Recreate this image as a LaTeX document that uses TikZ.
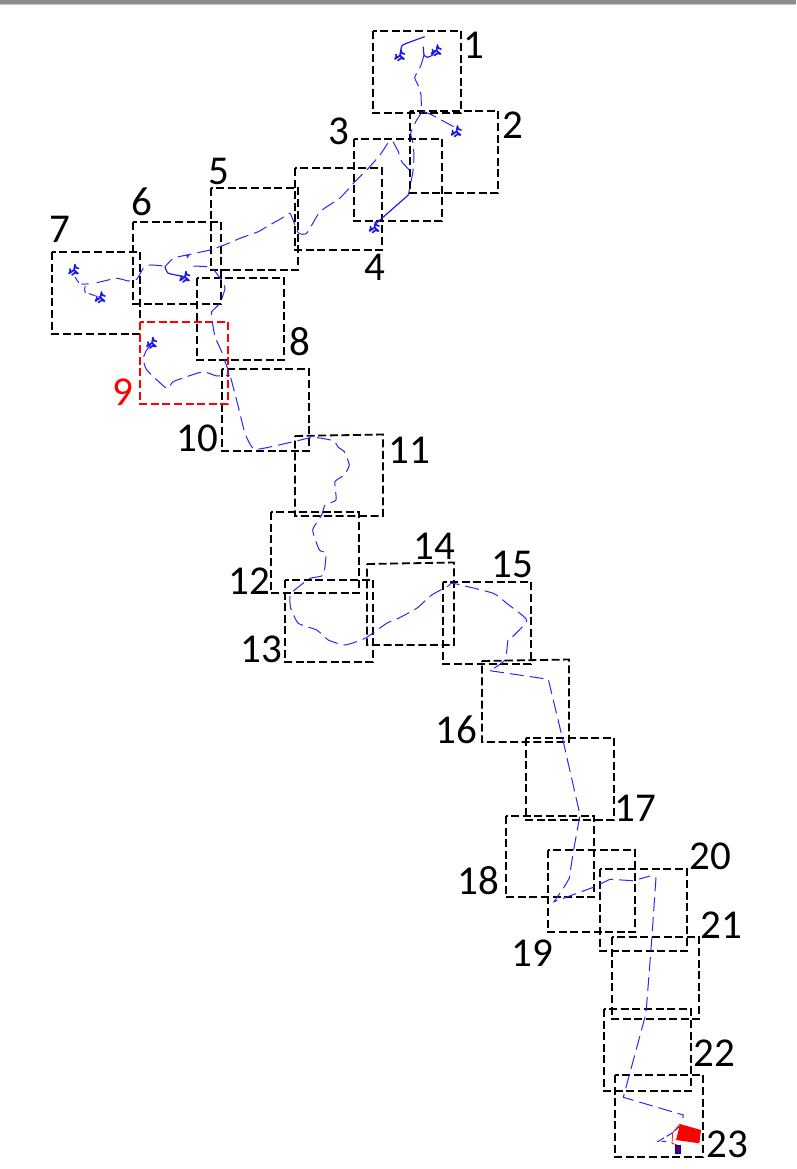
\documentclass[tikz,border=0pt]{standalone}
\usepackage{fontspec}
\setmainfont{Carlito}
\tikzset{
  x=1pt,y=-1pt,
  frame/.style={draw=black,line width=1.8pt,dash pattern=on 8pt off 3.6pt},
  redframe/.style={draw=red,line width=2.2pt,dash pattern=on 8pt off 3.6pt},
  lab/.style={font=\fontsize{41}{41}\selectfont,text=black,inner sep=0pt,anchor=center},
  track/.style={draw={rgb,255:red,40;green,40;blue,250},line width=1pt,dash pattern=on 14pt off 6pt,smooth,tension=0.3},
  solidtrack/.style={draw={rgb,255:red,30;green,30;blue,240},line width=1.2pt,smooth,tension=0.3},
  blob/.pic={
    \draw[draw={rgb,255:red,25;green,25;blue,235},line width=1.7pt,line cap=round,line join=round]
      (0.5,0.5) -- (1.5,-5)
      (0.5,0.5) -- (-4.5,4)
      (0.5,0.5) -- (4.5,4)
      (1.5,-4) .. controls (2,-2) and (3,-1) .. (5,-1)
      (-4.5,4) .. controls (-3,1.5) and (-2.5,1) .. (-3.5,-0.5)
      (4.5,4) .. controls (2.5,2.5) and (0,3) .. (-1.5,5.5);
  }
}
\newcommand{\fbx}[5][frame]{\draw[#1] (#2,#3) rectangle (#4,#5);}
\begin{document}
\begin{tikzpicture}
\useasboundingbox (0,0) rectangle (796,1169);
\fill[white] (0,0) rectangle (796,1169);
\fill[black!45] (0,0) rectangle (796,4);
\fill[black!22] (0,4) rectangle (796,5);
% frames
\fbx{373}{31}{461}{113}
\fbx{410}{111}{498}{193}
\fbx{354}{139}{442}{221}
\fbx{295}{168}{382}{250}
\fbx{211}{188}{298}{270}
\fbx{133}{222}{221}{304}
\fbx{52}{252}{140}{334}
\fbx{197}{278}{284}{360}
\fbx{222}{369}{309}{451}
\draw[frame] (295,436) -- (383,434.5) -- (383,516) -- (295,516) -- cycle;
\fbx{271}{512}{359}{593}
\fbx{285}{580}{373}{662}
\draw[frame] (367,564) -- (454,562.5) -- (454,645) -- (367,645) -- cycle;
\fbx{443}{582}{531}{664}
\draw[frame] (482,661) -- (569,659.5) -- (569,742) -- (482,742) -- cycle;
\fbx{526}{738}{614}{820}
\fbx{506}{816}{594}{897}
\fbx{548}{850}{635}{932}
\fbx{600}{869}{687}{951}
\fbx{612}{937}{699}{1019}
\fbx{604}{1009}{691}{1091}
\fbx{615}{1075}{703}{1157}
\fbx[redframe]{140}{322}{228}{404}
% tracks
\draw[solidtrack] plot coordinates {(400.7,51.7) (402.7,45) (424.7,36.7)};
\draw[solidtrack] plot coordinates {(423.3,46.7) (424,55) (427.3,57.3) (432.7,55) (435,50)};
\draw[track] plot coordinates {(424,55) (420.7,66) (414.7,77.3) (418,85) (421,95) (422,110) (432,115) (456,128)};
\draw[track] plot coordinates {(422,112) (416.7,120) (410.7,133) (413,143) (414,157) (412.7,173) (408.3,195)};
\draw[solidtrack] plot coordinates {(408.3,195) (380,220) (375,225)};
\draw[track] plot coordinates {(393,141.7) (398.3,151.7) (401.7,161.7) (409.3,170)};
\draw[track] plot coordinates {(387.7,143.3) (380,155) (368.3,168.3) (355,181.7) (340,198) (320,211.7) (306.7,233.3) (298.3,232.7) (290,213.3) (281.7,218.3) (266.7,226.7) (258.3,231.7) (240,238.3) (226.7,244) (210,250) (186.7,255) (173.3,258.3) (165,266.7)};
\draw[solidtrack] plot coordinates {(165,266.7) (168.3,273.3) (185,276.7)};
\draw[track] plot coordinates {(96.7,282.7) (116.7,278.3) (128.3,281) (136.7,279.3) (143.3,268.3) (150,265) (160.7,265.7) (165,266.7)};
\draw[track,dash pattern=on 7pt off 3pt] plot coordinates {(75,277) (80,284) (88,284) (85,287) (85,292) (93,295) (100,297)};
\draw[track,solid] plot coordinates {(186,256) (189,255) (187,258)};
\draw[track] plot coordinates {(193.3,266) (206.7,266.7) (213,269) (220,278) (225,288) (220,303) (211.7,311.7) (211.7,318) (215,336.7) (221.7,351.7) (225,361.7) (230,375) (238.3,406.7) (245,433.3) (255,449.3) (293.3,441.7) (313.3,437.3) (333.3,440.7) (338.3,447.3) (344.3,451.7) (349.3,465) (344.3,475) (335,481.7) (336,500) (325,505) (321.7,515) (312.7,530) (319.3,550) (326,553.3) (323.3,575) (310,578.3) (296.7,588.3) (290,595) (290.7,608.3) (298.3,623.3) (316.7,630) (328.3,640) (345,645) (365,638.3) (386.7,623.3) (398.3,618.3) (416.7,608.3) (431.7,595) (448.3,586) (453.3,583.3) (493.3,593.3) (506.7,603.3) (526.7,620) (513.3,636) (508.3,638.3) (505,660) (490,670.7)};
\draw[track] plot[sharp plot] coordinates {(490,670.7) (548.3,679.3) (563.3,741.7) (580,815) (573.3,851.7) (569.3,878.3) (564,887.3) (554,901.7) (563.3,898.3) (593.3,887.3) (610,879.3) (633.3,880.7) (650,876)};
\draw[track] plot[sharp plot] coordinates {(656,877.3) (651.7,940) (646,1013.3) (623.3,1097.3) (683.3,1115) (682.7,1118)};
\draw[track,dash pattern=on 7pt off 3pt] plot[sharp plot] coordinates {(680,1126) (671.7,1133.3) (658.3,1141.3) (666,1141.3)};
\draw[track] plot coordinates {(151,345) (146.7,350) (143.3,358.3) (146.7,370) (166.7,388.3) (173,381.7) (186.7,376.7) (203.3,371.7) (216.7,376) (230,375)};
% blobs
\pic at (399.5,55) {blob};
\pic at (436,50) {blob};
\pic at (456,131) {blob};
\pic at (374,227) {blob};
\pic at (184.5,276.5) {blob};
\pic at (73.5,269.5) {blob};
\pic at (100,297) {blob};
\pic at (151.5,342.5) {blob};
% end marker
\fill[red] (680,1124) -- (701,1130) -- (699.3,1143.3) -- (676,1140) -- cycle;
\draw[red,line width=0.7pt] (680,1124) -- (672.7,1132.7) -- (672,1143.3) -- (677.3,1145);
\draw[blue!80!black,line width=1pt,fill=red!50!blue!70!black] (675.3,1145) rectangle (680,1153.3);
% labels
\node[lab] (l1) at (473.5,45) {1};
\node[lab] (l2) at (513,125) {2};
\node[lab] (l3) at (338.5,131) {3};
\node[lab] (l4) at (375,267) {4};
\node[lab] (l5) at (219,171) {5};
\node[lab] (l6) at (142,202) {6};
\node[lab] (l7) at (60,229) {7};
\node[lab] (l8) at (300,342) {8};
\node[lab,text=red] (l9) at (123,392) {9};
\node[lab] (l10) at (197,438) {10};
\node[lab] (l11) at (409.5,450) {11};
\node[lab] (l12) at (249,581) {12};
\node[lab] (l13) at (261,649) {13};
\node[lab] (l14) at (434.5,546) {14};
\node[lab] (l15) at (512,564) {15};
\node[lab] (l16) at (456,730) {16};
\node[lab] (l17) at (635,808) {17};
\node[lab] (l18) at (478,881) {18};
\node[lab] (l19) at (532,953) {19};
\node[lab] (l20) at (710,856) {20};
\node[lab] (l21) at (721,925) {21};
\node[lab] (l22) at (714,1053) {22};
\node[lab] (l23) at (727,1144) {23};
\end{tikzpicture}
\end{document}
